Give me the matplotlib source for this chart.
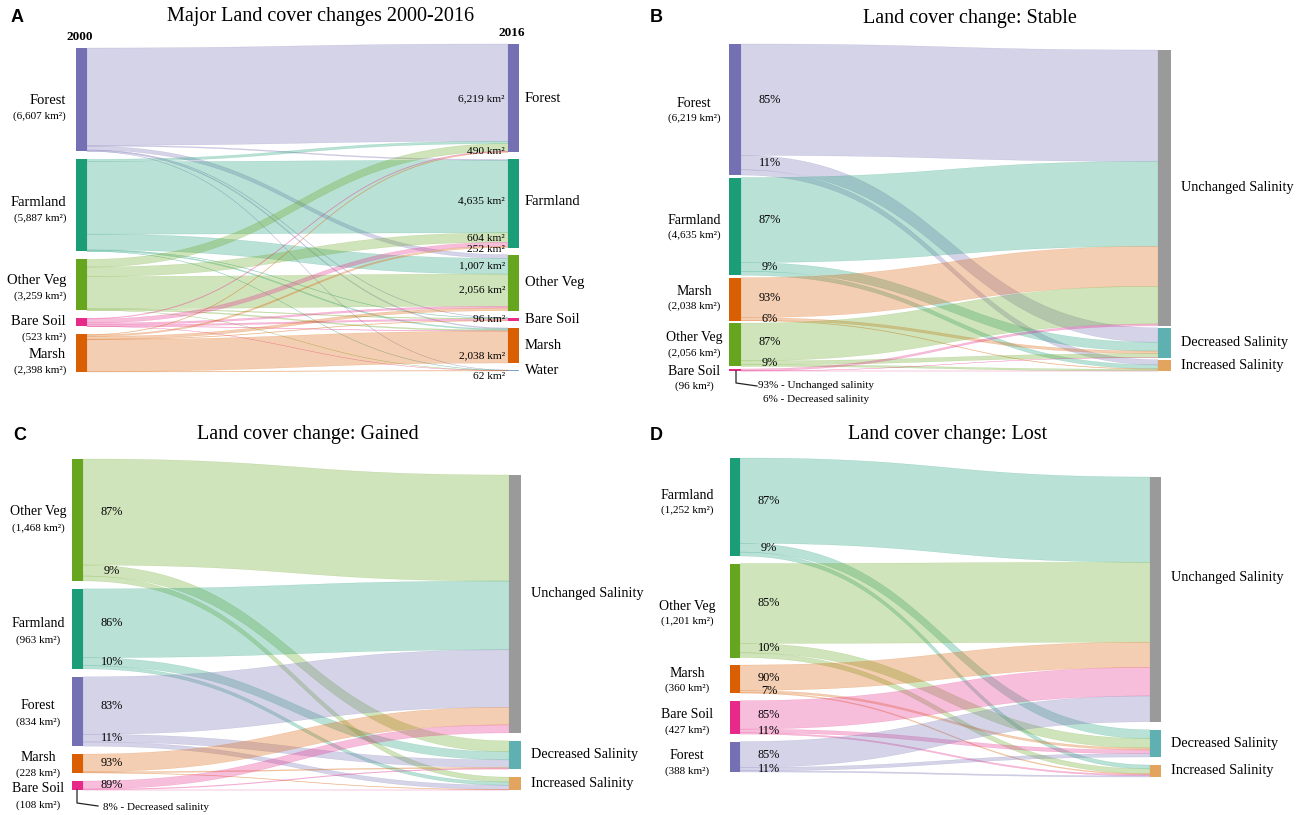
import numpy as np
import matplotlib.pyplot as plt
from matplotlib.patches import Rectangle

plt.rcParams['font.family'] = ['Liberation Serif', 'DejaVu Serif']

# --- colours ---
cover_colors = {
    "Forest": "#7570b3",
    "Farmland": "#1b9e77",
    "Other Veg": "#66a61e",
    "Bare Soil": "#e7298a",
    "Marsh": "#d95f02",
    "Water": "#7ea6cc",
}
salinity_names = ["Unchanged Salinity", "Decreased Salinity", "Increased Salinity"]
salinity_colors = ["#9a9a9a", "#5fb1b1", "#e3a45f"]

# --- A: land cover 2000 -> 2016 (km2) ---
a_classes_2000 = ["Forest", "Farmland", "Other Veg", "Bare Soil", "Marsh"]
a_area_2000 = [6607, 5887, 3259, 523, 2398]
a_classes_2016 = ["Forest", "Farmland", "Other Veg", "Bare Soil", "Marsh", "Water"]
# rows = class in 2000, columns = class in 2016
a_flows = [
    [6219, 60, 240, 20, 58, 10],
    [150, 4635, 1007, 20, 65, 10],
    [490, 604, 2056, 40, 62, 5],
    [40, 252, 110, 96, 23, 2],
    [30, 92, 175, 28, 2038, 35],
]
# links with a km2 label (None = whole 2016 node)
a_labelled = [("Forest", "Forest", 6), ("Other Veg", "Forest", 4),
              ("Farmland", "Farmland", 4), ("Other Veg", "Farmland", 1),
              ("Bare Soil", "Farmland", 5), ("Farmland", "Other Veg", 0),
              ("Other Veg", "Other Veg", 0), ("Bare Soil", "Bare Soil", 0),
              ("Marsh", "Marsh", 9), (None, "Water", 6)]

# --- B: stable land cover ---
b_classes = ["Forest", "Farmland", "Marsh", "Other Veg", "Bare Soil"]
b_area = [6219, 4635, 2038, 2056, 96]
b_unchanged = [85, 87, 93, 87, 93]
b_decreased = [11, 9, 6, 9, 6]
b_increased = [4, 4, 1, 4, 1]

# --- C: gained land cover ---
c_classes = ["Other Veg", "Farmland", "Forest", "Marsh", "Bare Soil"]
c_area = [1468, 963, 834, 228, 108]
c_unchanged = [87, 86, 83, 93, 89]
c_decreased = [9, 10, 11, 5, 8]
c_increased = [4, 4, 6, 2, 3]

# --- D: lost land cover ---
d_classes = ["Farmland", "Other Veg", "Marsh", "Bare Soil", "Forest"]
d_area = [1252, 1201, 360, 427, 388]
d_unchanged = [87, 85, 90, 85, 85]
d_decreased = [9, 10, 7, 11, 11]
d_increased = [4, 5, 3, 4, 4]


def layout(flows, src_span, tgt_span, gap):
    h_all = np.asarray(flows, dtype=float)
    out_tot = h_all.sum(axis=1)
    in_tot = h_all.sum(axis=0)
    scale = (src_span[1] - src_span[0] - gap * (len(out_tot) - 1)) / out_tot.sum()
    tgap = (tgt_span[1] - tgt_span[0] - scale * in_tot.sum()) / (len(in_tot) - 1)
    src_y = src_span[0] + np.r_[0, np.cumsum(out_tot * scale + gap)[:-1]]
    tgt_y = tgt_span[0] + np.r_[0, np.cumsum(in_tot * scale + tgap)[:-1]]
    h = h_all * scale
    src_off = src_y[:, None] + np.cumsum(h, axis=1) - h
    tgt_off = tgt_y[None, :] + np.cumsum(h, axis=0) - h
    return {"src_y": src_y, "src_h": out_tot * scale, "tgt_y": tgt_y,
            "tgt_h": in_tot * scale, "h": h, "src_off": src_off, "tgt_off": tgt_off}


def ribbon(ax, x0, x1, top0, bot0, top1, bot1, color):
    t = np.linspace(0, 1, 80)
    xm = (x0 + x1) / 2
    x = (1 - t)**3 * x0 + 3 * (1 - t)**2 * t * xm + 3 * (1 - t) * t**2 * xm + t**3 * x1
    k = 3 * t**2 - 2 * t**3
    top = top0 + (top1 - top0) * k
    bot = bot0 + (bot1 - bot0) * k
    ax.fill(np.r_[x, x[::-1]], np.r_[top, bot[::-1]], color=color, alpha=0.3, lw=0.3)


def draw_sankey(ax, flows, src_colors, tgt_colors, g):
    L = layout(flows, g["src_span"], g["tgt_span"], g["gap"])
    x0 = g["xs"] + g["ws"]
    x1 = g["xt"]
    n, m = L["h"].shape
    for i in range(n):
        for j in range(m):
            if L["h"][i, j] > 0:
                ribbon(ax, x0, x1, L["src_off"][i, j], L["src_off"][i, j] + L["h"][i, j],
                       L["tgt_off"][i, j], L["tgt_off"][i, j] + L["h"][i, j], src_colors[i])
    for i in range(n):
        ax.add_patch(Rectangle((g["xs"], L["src_y"][i]), g["ws"], L["src_h"][i],
                               fc=src_colors[i], ec="none"))
    for j in range(m):
        ax.add_patch(Rectangle((g["xt"], L["tgt_y"][j]), g["wt"], max(L["tgt_h"][j], 1.2),
                               fc=tgt_colors[j], ec="none"))
    return L


def panel_heading(ax, letter, letter_xy, title, title_xy):
    ax.text(*letter_xy, letter, fontfamily="Liberation Sans", fontweight="bold",
            fontsize=13, va="center", ha="left")
    ax.text(*title_xy, title, fontsize=14.5, ha="center", va="center")


def salinity_panel(ax, names, area, unch, decr, incr, g, name_x, name_dy, sub_dy,
                   right_dy, n_pct):
    flows = [[a * u / 100, a * d / 100, a * c / 100]
             for a, u, d, c in zip(area, unch, decr, incr)]
    L = draw_sankey(ax, flows, [cover_colors[c] for c in names], salinity_colors, g)
    for i, name in enumerate(names):
        yc = L["src_y"][i] + L["src_h"][i] / 2
        ax.text(name_x, yc + name_dy[i], name, ha="center", va="center", fontsize=10)
        ax.text(name_x, yc + name_dy[i] + sub_dy, f"({area[i]:,} km²)", ha="center",
                va="center", fontsize=8)
        pcts = [unch[i], decr[i]]
        for k in range(n_pct[i]):
            yk = L["src_off"][i, k] + L["h"][i, k] / 2
            ax.text(g["xs"] + g["ws"] + 29, yk, f"{pcts[k]}%", ha="center", va="center",
                    fontsize=8.8)
    for j, name in enumerate(salinity_names):
        yc = L["tgt_y"][j] + L["tgt_h"][j] / 2
        ax.text(g["xt"] + g["wt"] + 10, yc + right_dy[j], name, ha="left", va="center",
                fontsize=10.3)
    return L


fig = plt.figure(figsize=(13.04, 8.15), dpi=100)
ax = fig.add_axes([0, 0, 1, 1])
ax.set_xlim(0, 1304)
ax.set_ylim(815, 0)
ax.axis("off")

# ---------------- A ----------------
geo_a = {"xs": 76, "ws": 11, "xt": 508, "wt": 11,
         "src_span": (48, 372), "tgt_span": (44, 371), "gap": 8}
La = draw_sankey(ax, a_flows, [cover_colors[c] for c in a_classes_2000],
                 [cover_colors[c] for c in a_classes_2016], geo_a)
panel_heading(ax, "A", (11, 18), "Major Land cover changes 2000-2016", (321, 17))
ax.text(80, 37, "2000", ha="center", va="center", fontweight="bold", fontsize=9.5)
ax.text(512, 33, "2016", ha="center", va="center", fontweight="bold", fontsize=9.5)
a_name_dy = [1, -2.5, -4, -1, 1]
for i, name in enumerate(a_classes_2000):
    yc = La["src_y"][i] + La["src_h"][i] / 2 + a_name_dy[i]
    ax.text(66, yc, name, ha="right", va="center", fontsize=10.5)
    ax.text(66, yc + 15.5, f"({a_area_2000[i]:,} km²)", ha="right", va="center", fontsize=8)
a_right_dy = [0, -2, 0, 0, 0, 0]
for j, name in enumerate(a_classes_2016):
    yc = La["tgt_y"][j] + max(La["tgt_h"][j], 1.2) / 2
    ax.text(geo_a["xt"] + geo_a["wt"] + 6, yc + a_right_dy[j], name, ha="left",
            va="center", fontsize=10.5)
flows_a = np.asarray(a_flows)
for src, tgt, dy in a_labelled:
    j = a_classes_2016.index(tgt)
    if src is None:
        val = flows_a[:, j].sum()
        yc = La["tgt_y"][j] + La["tgt_h"][j] / 2
    else:
        i = a_classes_2000.index(src)
        val = flows_a[i, j]
        yc = La["tgt_off"][i, j] + La["h"][i, j] / 2
    ax.text(geo_a["xt"] - 3, yc + dy, f"{val:,} km²", ha="right", va="center", fontsize=8.2)

# ---------------- B ----------------
geo_b = {"xs": 729, "ws": 12, "xt": 1158, "wt": 13,
         "src_span": (44, 371), "tgt_span": (50, 371), "gap": 2.5}
panel_heading(ax, "B", (650, 18), "Land cover change: Stable", (970, 18))
Lb = salinity_panel(ax, b_classes, b_area, b_unchanged, b_decreased, b_increased, geo_b,
                    694, [-6.5, -6, -7.5, -7, 1.5], 15, [0, 0, 0], [2, 2, 2, 2, 0])
bx = geo_b["xs"] + 7
by = Lb["src_y"][4] + Lb["src_h"][4]
ax.plot([bx, bx, bx + 21], [by, by + 12, by + 15], color="#222222", lw=0.9)
ax.text(816, 386, f"{b_unchanged[4]}% - Unchanged salinity", ha="center", va="center",
        fontsize=8)
ax.text(816, 399, f"{b_decreased[4]}% - Decreased salinity", ha="center", va="center",
        fontsize=8)

# ---------------- C ----------------
geo_c = {"xs": 72, "ws": 11, "xt": 509, "wt": 12,
         "src_span": (459, 790), "tgt_span": (475, 790), "gap": 8}
panel_heading(ax, "C", (13, 435), "Land cover change: Gained", (308, 435))
Lc = salinity_panel(ax, c_classes, c_area, c_unchanged, c_decreased, c_increased, geo_c,
                    38, [-8, -5, -5.5, -6.5, 3], 16.5, [-10, 0, 0], [2, 2, 2, 1, 1])
cx = geo_c["xs"] + 5
cy = Lc["src_y"][4] + Lc["src_h"][4]
ax.plot([cx, cx, cx + 21], [cy, cy + 13, cy + 16], color="#222222", lw=0.9)
ax.text(103, 808, f"{c_decreased[4]}% - Decreased salinity", ha="left", va="center",
        fontsize=8)

# ---------------- D ----------------
geo_d = {"xs": 730, "ws": 10, "xt": 1150, "wt": 11,
         "src_span": (458, 772), "tgt_span": (477, 777), "gap": 7.5}
panel_heading(ax, "D", (650, 435), "Land cover change: Lost", (948, 435))
salinity_panel(ax, d_classes, d_area, d_unchanged, d_decreased, d_increased, geo_d,
               687, [-12, -4.5, -6, -2.5, -1], 15.5, [-22, 0, 0], [2, 2, 2, 2, 2])

fig.savefig("out.png", dpi=100)
